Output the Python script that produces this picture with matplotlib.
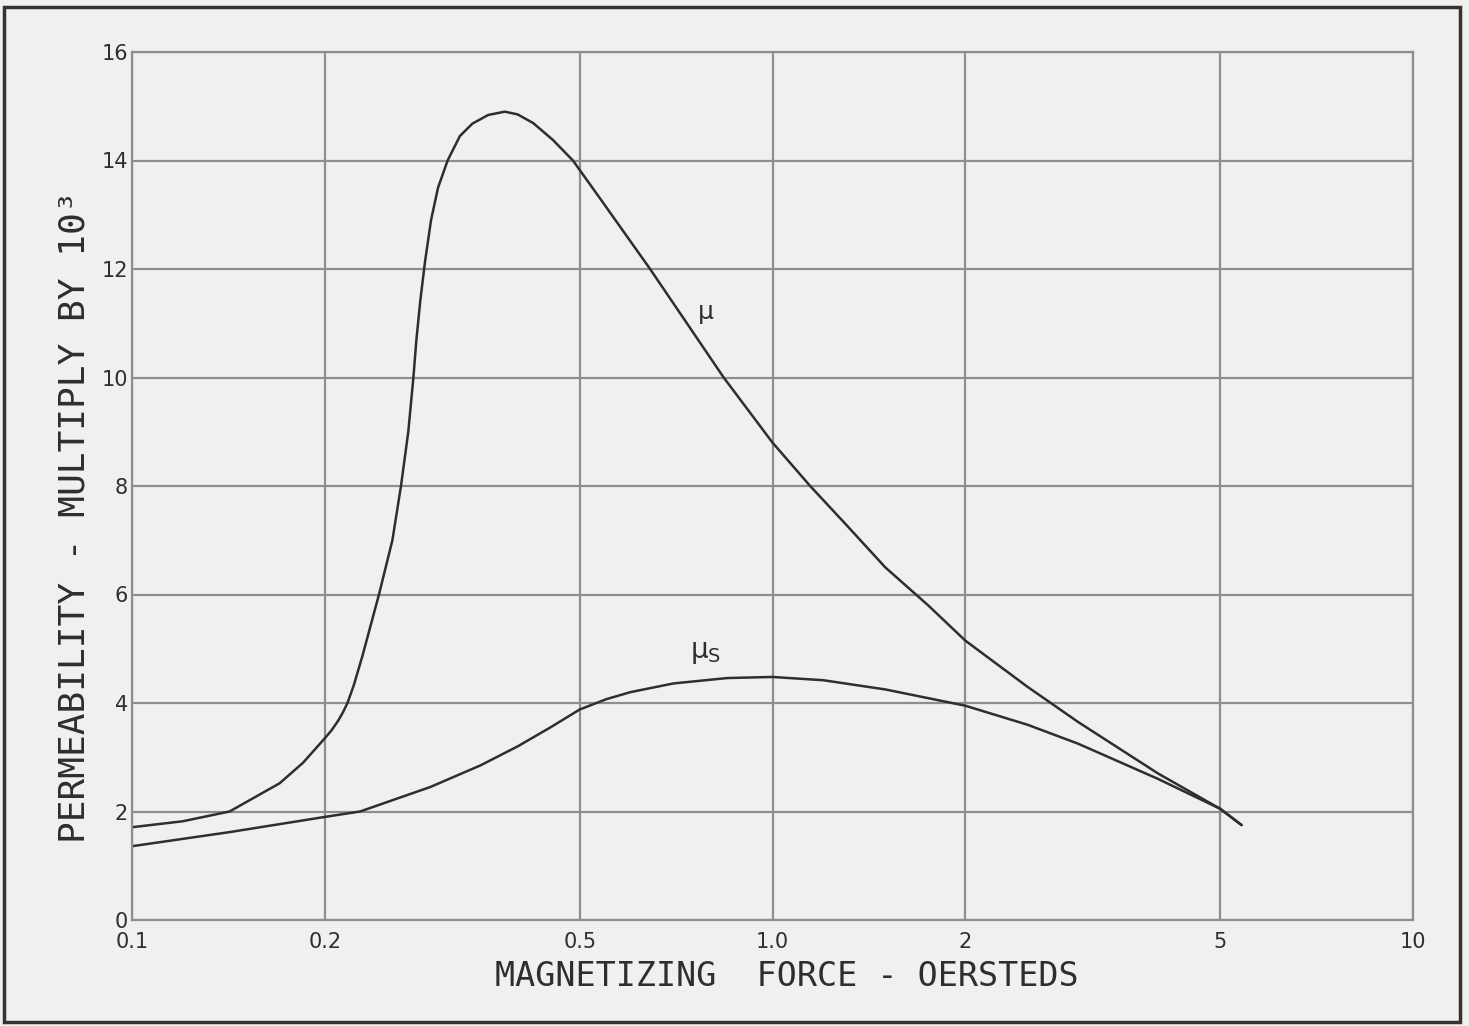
import matplotlib
matplotlib.use("Agg")
import matplotlib.pyplot as plt
from matplotlib.patches import Rectangle

# ---- data ----
mu_x = [0.1, 0.12, 0.142, 0.17, 0.185, 0.2, 0.205, 0.21, 0.2135, 0.217, 0.222, 0.229,
        0.243, 0.255, 0.263, 0.27, 0.275, 0.278, 0.282, 0.2867, 0.293, 0.3005, 0.311,
        0.325, 0.34, 0.36, 0.382, 0.40, 0.423, 0.454, 0.488, 0.538, 0.644, 0.839, 1.0,
        1.145, 1.3, 1.5, 1.75, 2.0, 2.5, 3.0, 4.0, 5.0, 5.4]
mu_y = [1.71, 1.82, 2.0, 2.52, 2.9, 3.35, 3.5, 3.68, 3.83, 4.0, 4.33, 4.87,
        6.0, 7.0, 8.0, 9.0, 10.0, 10.7, 11.43, 12.13, 12.9, 13.5, 14.0,
        14.45, 14.68, 14.84, 14.9, 14.85, 14.69, 14.38, 14.0, 13.3, 12.0, 10.0, 8.8,
        8.0, 7.3, 6.5, 5.8, 5.15, 4.3, 3.65, 2.7, 2.05, 1.75]

mus_x = [0.1, 0.142, 0.2, 0.227, 0.292, 0.35, 0.4, 0.45, 0.5, 0.55, 0.6, 0.7, 0.85,
         1.0, 1.2, 1.5, 2.0, 2.5, 3.0, 4.0, 5.0, 5.4]
mus_y = [1.36, 1.62, 1.9, 2.0, 2.45, 2.85, 3.2, 3.55, 3.88, 4.07, 4.2, 4.36, 4.46,
         4.48, 4.42, 4.25, 3.95, 3.6, 3.25, 2.6, 2.05, 1.75]

x_ticks = [0.1, 0.2, 0.5, 1.0, 2, 5, 10]
x_tick_labels = ["0.1", "0.2", "0.5", "1.0", "2", "5", "10"]
y_ticks = [0, 2, 4, 6, 8, 10, 12, 14, 16]
y_tick_labels = ["0", "2", "4", "6", "8", "10", "12", "14", "16"]

x_label = "MAGNETIZING  FORCE - OERSTEDS"
y_label = "PERMEABILITY - MULTIPLY BY 10³"

# ---- figure ----
W, H = 1469, 1026
bg = "#f0f0ee"
ink = "#2e2e2e"
gridc = "#8e8e8e"
mono = ["DejaVu Sans Mono", "DejaVu Sans"]

plt.rcParams["font.family"] = ["DejaVu Sans"]
fig = plt.figure(figsize=(W / 100, H / 100), dpi=100, facecolor=bg)
ax = fig.add_axes([132 / W, 1 - 920 / H, (1413 - 132) / W, (920 - 52) / H])
ax.set_facecolor(bg)

ax.set_xscale("log")
ax.set_xlim(0.1, 10)
ax.set_ylim(0, 16)
ax.set_xticks(x_ticks)
ax.set_xticklabels(x_tick_labels)
ax.xaxis.set_minor_locator(matplotlib.ticker.NullLocator())
ax.set_yticks(y_ticks)
ax.set_yticklabels(y_tick_labels)
ax.tick_params(axis="both", length=0, labelsize=15, colors=ink)
ax.tick_params(axis="x", pad=9)
ax.tick_params(axis="y", pad=3)
ax.grid(True, which="major", color=gridc, lw=1.6)
for s in ax.spines.values():
    s.set_color(gridc)
    s.set_linewidth(1.6)

ax.plot(mu_x, mu_y, color=ink, lw=1.8, solid_capstyle="round", solid_joinstyle="round")
ax.plot(mus_x, mus_y, color=ink, lw=1.8, solid_capstyle="round", solid_joinstyle="round")

ax.text(0.787, 11.2, "μ", fontsize=18, color=ink, ha="center", va="center")
ax.text(0.787, 4.94, r"$\mathregular{\mu_S}$", fontsize=20, color=ink,
        ha="center", va="center")

fig.text(787 / W, 1 - 976 / H, x_label, fontsize=24, color=ink, family=mono,
         ha="center", va="center")
fig.text(75 / W, 1 - 517 / H, y_label, fontsize=26, color=ink, family=mono,
         ha="center", va="center", rotation=90)

# outer frame of the plate
fig.patches.append(Rectangle((4 / W, 1 - 1022 / H), (1460 - 4) / W, (1022 - 7) / H,
                             transform=fig.transFigure, fill=False,
                             edgecolor="#333333", lw=2.5))

fig.savefig("out.png", dpi=100, facecolor=bg)
